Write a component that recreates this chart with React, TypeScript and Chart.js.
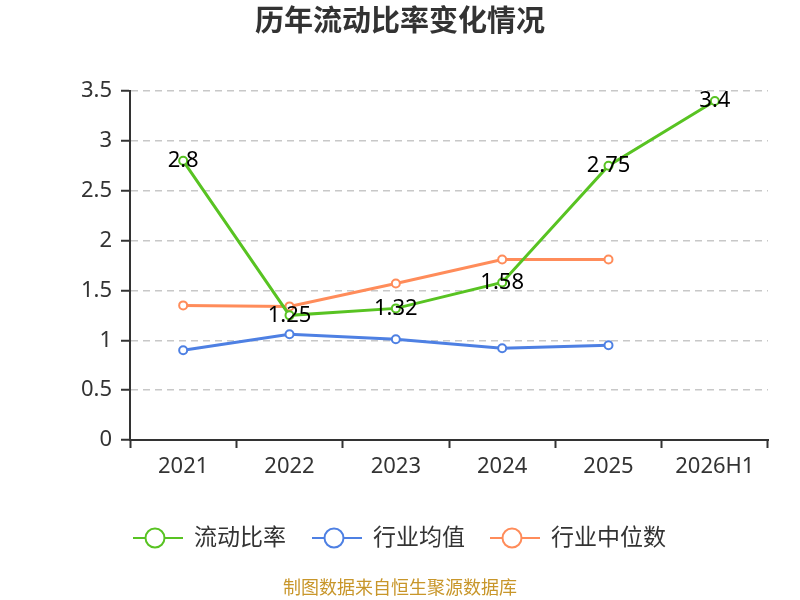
import { useEffect, useRef } from 'react';
import Chart from 'chart.js/auto';

const years = ['2021', '2022', '2023', '2024', '2025', '2026H1'];
const currentRatio = [2.8, 1.25, 1.32, 1.58, 2.75, 3.4];
const industryAvg = [0.9, 1.06, 1.01, 0.92, 0.95, null];
const industryMedian = [1.35, 1.34, 1.57, 1.81, 1.81, null];

const GREEN = '#58c322';
const BLUE = '#4e80e3';
const ORANGE = '#ff8c5a';
const FONT = '"Noto Sans", "Noto Sans CJK SC", sans-serif';

const legendItems = [
  { label: '流动比率', color: GREEN, x: 133 },
  { label: '行业均值', color: BLUE, x: 312 },
  { label: '行业中位数', color: ORANGE, x: 490 },
];

// title, point labels, legend and source line drawn by hand
const decorPlugin = {
  id: 'decor',
  afterDraw(chart: Chart) {
    const ctx = chart.ctx;
    ctx.save();

    ctx.fillStyle = '#333';
    ctx.font = `bold 29px ${FONT}`;
    ctx.textAlign = 'center';
    ctx.textBaseline = 'middle';
    ctx.fillText('历年流动比率变化情况', 400, 23);

    // labels on the current-ratio line
    const meta = chart.getDatasetMeta(0);
    ctx.font = `22px ${FONT}`;
    ctx.fillStyle = '#000';
    meta.data.forEach((pt, i) => {
      ctx.fillText(String(currentRatio[i]), pt.x, pt.y);
    });

    // legend
    legendItems.forEach((item) => {
      const y = 538;
      ctx.strokeStyle = item.color;
      ctx.lineWidth = 2;
      ctx.beginPath();
      ctx.moveTo(item.x, y);
      ctx.lineTo(item.x + 50, y);
      ctx.stroke();
      ctx.beginPath();
      ctx.arc(item.x + 22, y, 9.5, 0, Math.PI * 2);
      ctx.fillStyle = '#fff';
      ctx.fill();
      ctx.stroke();
      ctx.fillStyle = '#333';
      ctx.font = `23px ${FONT}`;
      ctx.textAlign = 'left';
      ctx.fillText(item.label, item.x + 61, y);
    });

    ctx.fillStyle = '#c8962a';
    ctx.font = `18px ${FONT}`;
    ctx.textAlign = 'center';
    ctx.fillText('制图数据来自恒生聚源数据库', 400, 589);

    ctx.restore();
  },
};

export default function App() {
  const canvasRef = useRef<HTMLCanvasElement>(null);

  useEffect(() => {
    document.body.style.margin = '0';
    if (!canvasRef.current) return;
    const ctx = canvasRef.current.getContext('2d');
    if (!ctx) return;

    const lineSet = (label: string, data: (number | null)[], color: string) => ({
      label,
      data,
      borderColor: color,
      backgroundColor: '#fff',
      borderWidth: 3,
      pointRadius: 4,
      pointBorderWidth: 2,
      pointBackgroundColor: '#fff',
      pointBorderColor: color,
      tension: 0,
    });

    const chart = new Chart(ctx, {
      type: 'line',
      data: {
        labels: years,
        datasets: [
          lineSet('流动比率', currentRatio, GREEN),
          lineSet('行业均值', industryAvg, BLUE),
          lineSet('行业中位数', industryMedian, ORANGE),
        ],
      },
      options: {
        responsive: false,
        animation: false,
        layout: { padding: { top: 91, right: 32, bottom: 100, left: 0 } },
        plugins: {
          legend: { display: false },
          title: { display: false },
          tooltip: { enabled: false },
        },
        scales: {
          x: {
            offset: true,
            afterFit: (scale: any) => { scale.height = 60; },
            grid: {
              offset: true,
              drawOnChartArea: false,
              drawTicks: true,
              tickLength: 8,
              tickColor: '#333',
              tickWidth: 2,
            },
            border: { color: '#333', width: 2 },
            ticks: { color: '#333', font: { size: 22, family: FONT }, padding: 6 },
          },
          y: {
            min: 0,
            max: 3.5,
            afterFit: (scale: any) => { scale.width = 130; },
            ticks: {
              stepSize: 0.5,
              color: '#333',
              font: { size: 22, family: FONT },
              padding: 9,
              callback: (v: any) => String(Number(v)),
            },
            grid: {
              color: '#c8c8c8',
              lineWidth: 1.5,
              tickLength: 9,
              tickColor: '#333',
              tickWidth: 2,
            },
            border: { color: '#333', width: 2, dash: [7, 5] },
          },
        },
      },
      plugins: [decorPlugin],
    });

    return () => chart.destroy();
  }, []);

  return <canvas ref={canvasRef} width={800} height={600} style={{ display: 'block' }} />;
}
